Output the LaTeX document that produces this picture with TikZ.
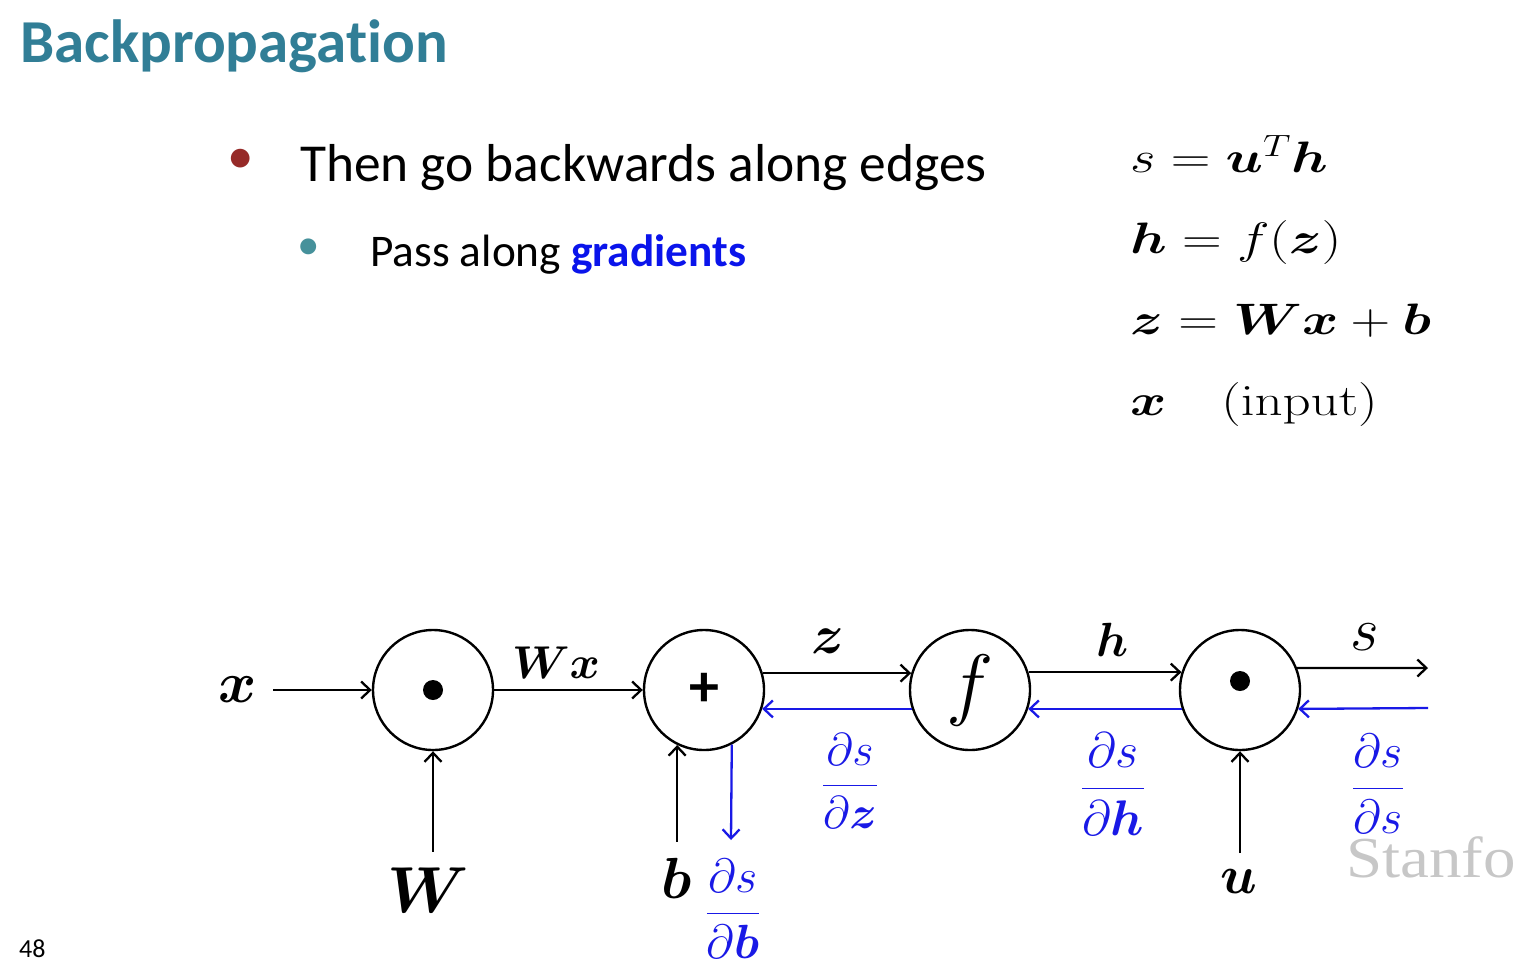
\RequirePackage{fix-cm}
\documentclass[tikz,border=0pt]{standalone}
\usepackage{amsmath}
\usepackage{graphicx}
\usepackage[no-math]{fontspec}
\setmainfont{Carlito}[Ligatures=NoCommon]
\newfontfamily\stanfont{Liberation Serif}
\usetikzlibrary{arrows.meta}
\definecolor{titlecol}{RGB}{49,126,150}
\definecolor{bulred}{RGB}{150,42,40}
\definecolor{bulteal}{RGB}{70,145,155}
\definecolor{gradblue}{RGB}{10,20,235}
\definecolor{gblue}{RGB}{25,25,230}
\newcommand{\fsz}[1]{\fontsize{#1}{#1}\selectfont}
\begin{document}
\begin{tikzpicture}[x=1pt,y=-1pt,
  gate/.style={circle,draw,line width=2.4pt,minimum size=120pt,inner sep=0pt},
  fwd/.style={line width=2.3pt,-{Straight Barb[length=9pt,width=17pt,line width=2.3pt]}},
  bwd/.style={fwd,draw=gblue},
  lbl/.style={inner sep=0pt,outer sep=16pt},
  elbl/.style={inner sep=0pt},
  grad/.style={inner sep=0pt,text=gblue},
  eqn/.style={anchor=base west,inner sep=0pt,font=\fsz{44}}]
\useasboundingbox (0,0) rectangle (1514,964);

% header texts
\node[anchor=base west,inner sep=0pt,text=titlecol,font=\fsz{61}\bfseries] (title) at (20,62) {Backpropagation};
\node[inner sep=0pt,text=bulred,font=\fsz{53}] (dot1) at (241,161) {•};
\node[anchor=base west,inner sep=0pt,font=\fsz{53.4}] (line1) at (300,181) {Then go backwards along edges};
\node[inner sep=0pt,text=bulteal,font=\fsz{45}] (dot2) at (309,249) {•};
\node[anchor=base west,inner sep=0pt,font=\fsz{45.3}] (line2) at (370,266) {Pass along \textcolor{gradblue}{\textbf{gradients}}};

% equations
\node[eqn] (eq1) at (1130,172) {\scalebox{1.25}[1]{$s = \boldsymbol{u}^T\boldsymbol{h}$}};
\node[eqn] (eq2) at (1130,253) {\scalebox{1.25}[1]{$\boldsymbol{h} = f(\boldsymbol{z})$}};
\node[eqn] (eq3) at (1130,334) {\scalebox{1.25}[1]{$\boldsymbol{z} = \boldsymbol{W}\boldsymbol{x} + \boldsymbol{b}$}};
\node[eqn] (eq4) at (1130,415) {\scalebox{1.25}[1]{$\boldsymbol{x}\quad\mathrm{(input)}$}};

% gates
\node[gate] (g1) at (433,690) {};
\fill (g1) circle (10pt);
\node[gate,font=\fsz{60}\bfseries] (g2) at (704,690) {+};
\node[gate,font=\fsz{80}] (g3) at (970,690) {$f$};
\node[gate] (g4) at (1240,690) {};
\fill ([yshift=9pt]g4) circle (10pt);

% input labels
\node[lbl,font=\fsz{58}] (xl) at (238,690) {$\boldsymbol{x}$};
\node[lbl,font=\fsz{65}] (Wl) at (428,890) {$\boldsymbol{W}$};
\node[lbl,font=\fsz{58}] (bl) at (677,878) {$\boldsymbol{b}$};
\node[lbl,font=\fsz{54}] (ul) at (1239,881) {$\boldsymbol{u}$};

% edge labels
\node[elbl,font=\fsz{46}] (lWx) at (556,663) {$\boldsymbol{W}\boldsymbol{x}$};
\node[elbl,font=\fsz{55}] (lz) at (828,641) {$\boldsymbol{z}$};
\node[elbl,font=\fsz{48}] (lh) at (1113,640) {$\boldsymbol{h}$};
\node[elbl,font=\fsz{62}] (ls) at (1365,637) {$s$};

% gradient labels
\node[grad,font=\fsz{46}] (dz) at (850,781) {$\dfrac{\partial s}{\partial \boldsymbol{z}}$};
\node[grad,font=\fsz{50}] (dh) at (1113,784) {$\dfrac{\partial s}{\partial \boldsymbol{h}}$};
\node[grad,font=\fsz{48}] (ds) at (1378,784) {$\dfrac{\partial s}{\partial s}$};
\node[grad,font=\fsz{48}] (db) at (733,909) {$\dfrac{\partial s}{\partial \boldsymbol{b}}$};

% free ends
\coordinate (sout) at (1428,668);
\coordinate (sin) at (1428,708);
\coordinate (dbt) at (731,840);

% forward connectors
\draw[fwd] (xl) -- (g1);
\draw[fwd] (g1) -- (g2);
\draw[fwd] (g2.16) -- (g3.164);
\draw[fwd] (g3.17) -- (g4.163);
\draw[fwd] (g4.21) -- (sout);
\draw[fwd] (Wl.north -| g1.south) -- (g1.south);
\draw[fwd] (bl.north -| g2.244) -- (g2.244);
\draw[fwd] (ul.north -| g4.south) -- (g4.south);

% backward connectors
\draw[bwd] (g3.198) -- (g2.-18);
\draw[bwd] (g4.198) -- (g3.-18);
\draw[bwd] (sin) -- (g4.-18);
\draw[bwd] (g2.-63) -- (dbt);

% watermark and page number
\begin{scope}
\clip (0,0) rectangle (1514,964);
\node[anchor=base west,inner sep=0pt,text=black!22,font=\stanfont\fsz{58}] (stan) at (1346,877) {\scalebox{1.12}[1]{Stanford}};
\end{scope}
\node[anchor=base west,inner sep=0pt,font=\fsz{26}] (pnum) at (19,957) {48};
\end{tikzpicture}
\end{document}
